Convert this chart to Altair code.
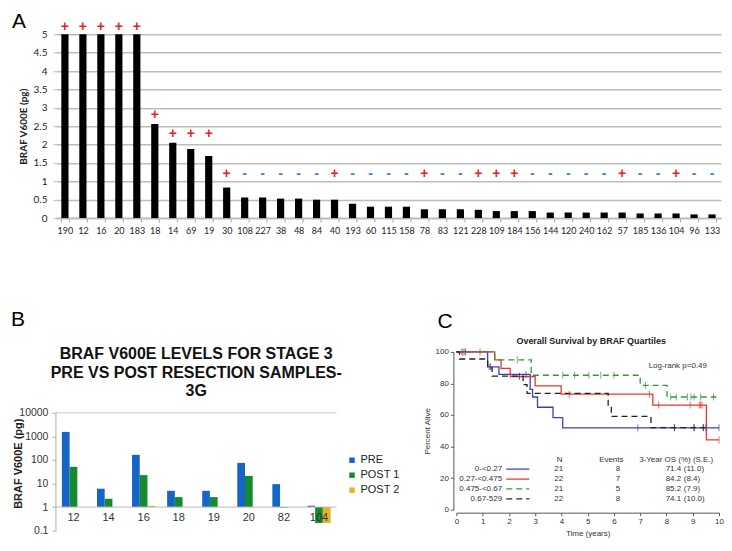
import altair as alt
import pandas as pd

# ---------------- Panel A data ----------------
a_samples = ['190', '12', '16', '20', '183', '18', '14', '69', '19', '30', '108', '227', '38', '48', '84', '40', '193',
             '60', '115', '158', '78', '83', '121', '228', '109', '184', '156', '144', '120', '240', '162', '57',
             '185', '136', '104', '96', '133']
a_values = [5, 5, 5, 5, 5, 2.56, 2.05, 1.88, 1.69, 0.83, 0.56, 0.56, 0.53, 0.53, 0.50, 0.50, 0.39,
            0.31, 0.31, 0.31, 0.24, 0.24, 0.24, 0.225, 0.19, 0.19, 0.19, 0.15, 0.15, 0.15, 0.15, 0.15,
            0.125, 0.125, 0.125, 0.10, 0.10]
a_signs = ['+', '+', '+', '+', '+', '+', '+', '+', '+', '+', '-', '-', '-', '-', '-', '+', '-',
           '-', '-', '-', '+', '-', '-', '+', '+', '+', '-', '-', '-', '-', '-', '+',
           '-', '-', '+', '-', '-']
a_sign_level = [5.21] * 5 + [2.8, 2.28, 2.28, 2.28] + [1.2] * 28
a_ticks = [0, 0.5, 1, 1.5, 2, 2.5, 3, 3.5, 4, 4.5, 5]

# ---------------- Panel B data ----------------
b_samples = ['12', '14', '16', '18', '19', '20', '82', '104']
b_series = ['PRE', 'POST 1', 'POST 2']
b_pre = [1550, 6.0, 165, 4.9, 4.9, 75, 9.4, 1.14]
b_post1 = [51, 2.25, 22.7, 2.65, 2.65, 21, 0.95, 0.21]
b_post2 = [None, None, 1.14, None, None, None, None, 0.21]
b_colors = ['#1565c9', '#178a2f', '#e2b526']
b_ticks = [0.1, 1, 10, 100, 1000, 10000]
b_title = 'BRAF V600E LEVELS FOR STAGE 3\nPRE VS POST RESECTION SAMPLES-\n3G'

# ---------------- Panel C data ----------------
c_groups = ['0-<0.27', '0.27-<0.475', '0.475-<0.67', '0.67-529']
c_colors = ['#3a3fc0', '#e8352e', '#2e9a38', '#222222']
blue_t = [0, 1.19, 1.62, 2.81, 2.9, 3.09, 3.68, 4.05, 10.0]
blue_s = [100, 90.5, 85.7, 76.2, 71.4, 64.9, 58.4, 51.9, 51.9]
red_t = [0, 1.46, 1.70, 2.05, 3.0, 3.99, 7.48, 9.52, 10.0]
red_s = [100, 95.0, 89.5, 84.4, 78.4, 73.2, 66.3, 44.2, 44.2]
green_t = [0, 1.46, 2.85, 7.0, 8.02, 9.9]
green_s = [100, 95.0, 85.2, 78.8, 71.4, 71.4]
black_t = [0, 0.12, 1.19, 1.36, 2.54, 2.69, 5.78, 5.9, 7.41, 9.48]
black_s = [100, 95.5, 89.9, 84.6, 79.3, 73.7, 66.2, 59.1, 52.0, 52.0]

blue_ct = [0.25, 0.35, 1.25, 1.3, 2.65, 6.91, 8.31, 9.05, 9.4, 9.5, 10.0]
blue_cs = [100, 100, 90.5, 90.5, 85.7, 51.9, 51.9, 51.9, 51.9, 51.9, 51.9]
red_ct = [0.2, 0.3, 0.9, 4.3, 7.35, 7.7, 8.9, 9.25, 9.3, 9.35, 10.0]
red_cs = [100, 100, 100, 73.2, 73.2, 66.3, 66.3, 66.3, 66.3, 66.3, 44.2]
green_ct = [2.32, 4.05, 4.5, 5.05, 5.5, 6.0, 7.2, 8.16, 8.37, 8.8, 8.93, 9.05, 9.3, 9.79]
green_cs = [95, 85.2, 85.2, 85.2, 85.2, 85.2, 78.8, 71.4, 71.4, 71.4, 71.4, 71.4, 71.4, 71.4]
black_ct = [2.4, 8.3, 9.05, 9.4]
black_cs = [84.6, 52.0, 52.0, 52.0]

c_n = ['21', '22', '21', '22']
c_events = ['8', '7', '5', '8']
c_os = ['71.4', '84.2', '85.2', '74.1']
c_se = ['(11.0)', '(8.4)', '(7.9)', '(10.0)']
c_headers = ['N', 'Events', '3-Year OS (%) (S.E.)']

PANEL_FONT = dict(font='Liberation Sans', fontSize=21, align='left', baseline='top', color='black')

# =============== Panel A ===============
dfA = pd.DataFrame({'sample': a_samples, 'value': a_values, 'sign': a_signs, 'level': a_sign_level})
ytitleA = 'BRAF V600E (pg)'
xscaleA = alt.Scale(paddingInner=0.6, paddingOuter=0.3)
xaxisA = alt.Axis(labelAngle=0, labelFont='Lato', labelFontSize=9, labelColor='#222',
                  labelPadding=4, tickColor='#aaa', tickSize=4, tickBand='extent',
                  domainColor='#b8b8b8', domainWidth=1.5, labelOverlap=False)
yscaleA = alt.Scale(domain=[0, 5], nice=False, zero=True)
yaxisA = alt.Axis(values=a_ticks, format='~g', grid=True, gridColor='#bdbdbd', gridWidth=1.5,
                  domain=False, tickColor='#bdbdbd', tickSize=3, labelFont='Lato',
                  labelFontSize=10, labelColor='#222', labelPadding=6, labelOverlap=False,
                  titleFont='Lato', titleFontSize=10, titleFontWeight='bold',
                  titlePadding=5, titleColor='#222')
barsA = alt.Chart(dfA).mark_bar(color='black').encode(
    x=alt.X('sample:N', sort=a_samples, title=None, scale=xscaleA, axis=xaxisA),
    y=alt.Y('value:Q', title=ytitleA, scale=yscaleA, axis=yaxisA))
signsA = alt.Chart(dfA).mark_text(fontSize=14, fontWeight='bold', baseline='middle',
                                   font='Liberation Sans').encode(
    x=alt.X('sample:N', sort=a_samples, title=None, scale=xscaleA, axis=xaxisA),
    y=alt.Y('level:Q', title=ytitleA, scale=yscaleA, axis=yaxisA),
    text='sign:N',
    color=alt.Color('sign:N', scale=alt.Scale(domain=['+', '-'], range=['#e8231e', '#2f86d6']),
                    legend=None))
labelA = alt.Chart(pd.DataFrame({'t': ['A']})).mark_text(**PANEL_FONT).encode(
    text='t:N', x=alt.value(-44), y=alt.value(-23))
panelA = alt.layer(barsA, signsA, labelA).properties(width=666, height=184)

# =============== Panel B ===============
rowsB = []
for i, s in enumerate(b_samples):
    for ser, vals in zip(b_series, [b_pre, b_post1, b_post2]):
        if vals[i] is not None:
            rowsB.append({'sample': s, 'series': ser, 'value': vals[i]})
dfB = pd.DataFrame(rowsB)
yscaleB = alt.Scale(type='log', domain=[0.1, 3.85e6], nice=False)
yaxisB = alt.Axis(values=b_ticks, format='~g', grid=False, domain=False,
                  tickColor='#b0b0b0', tickSize=4, labelFont='Liberation Sans',
                  labelFontSize=10.5, labelColor='#333', labelPadding=4, title=None,
                  labelOverlap=False)
xscaleB = alt.Scale(paddingInner=0.34, paddingOuter=0.17)
barsB = alt.Chart(dfB).mark_bar().encode(
    x=alt.X('sample:N', sort=b_samples, title=None, scale=xscaleB, axis=None),
    xOffset=alt.XOffset('series:N', sort=b_series,
                        scale=alt.Scale(domain=b_series, paddingInner=0, paddingOuter=0)),
    y=alt.Y('value:Q', scale=yscaleB, axis=yaxisB),
    y2=alt.datum(1),
    color=alt.Color('series:N', sort=b_series,
                    scale=alt.Scale(domain=b_series, range=b_colors),
                    legend=alt.Legend(title=None, orient='none', legendX=291, legendY=103,
                                      symbolType='square', symbolSize=30, symbolStrokeWidth=0,
                                      labelFont='Liberation Sans', labelFontSize=11,
                                      labelColor='#222', rowPadding=3, labelOffset=3)))
one = pd.DataFrame({'k': [0]})
ruleB1 = alt.Chart(one).mark_rule(color='#b8b8b8', strokeWidth=1).encode(y=alt.datum(1))
ruleB2 = alt.Chart(one).mark_rule(color='#c8c8c8', strokeWidth=1).encode(y=alt.datum(10000))
axisLineB = alt.Chart(one).mark_rule(color='#b0b0b0', strokeWidth=1).encode(
    x=alt.value(0), y=alt.datum(0.1), y2=alt.datum(10000))
textB = alt.Chart(pd.DataFrame({'sample': b_samples})).mark_text(
    font='Liberation Sans', fontSize=11, color='#333', baseline='middle'
).encode(x=alt.X('sample:N', sort=b_samples, title=None, scale=xscaleB, axis=None),
         y=alt.datum(0.33), text='sample:N')
titleB = alt.Chart(pd.DataFrame({'t': [b_title]})).mark_text(
    font='Liberation Sans', fontSize=16, fontWeight='bold', align='center', baseline='top',
    lineBreak='\n', lineHeight=18.7, color='#111'
).encode(text='t:N', x=alt.value(140.5), y=alt.value(-6))
ytitleB = alt.Chart(pd.DataFrame({'t': ['BRAF V600E (pg)']})).mark_text(
    font='Liberation Sans', fontSize=11, fontWeight='bold', angle=270, align='center',
    baseline='middle', color='#222'
).encode(text='t:N', x=alt.value(-37), y=alt.value(112))
labelB = alt.Chart(pd.DataFrame({'t': ['B']})).mark_text(**PANEL_FONT).encode(
    text='t:N', x=alt.value(-45), y=alt.value(-42.5))
panelB = alt.layer(ruleB2, axisLineB, barsB, ruleB1, textB, titleB, ytitleB, labelB).properties(
    width=281, height=179)

# =============== Panel C ===============
rowsC = []
for g, ts, ss in zip(c_groups, [blue_t, red_t, green_t, black_t], [blue_s, red_s, green_s, black_s]):
    for t, s in zip(ts, ss):
        rowsC.append({'group': g, 't': t, 's': s})
dfC = pd.DataFrame(rowsC)
censC = []
for g, ts, ss in zip(c_groups, [blue_ct, red_ct, green_ct, black_ct], [blue_cs, red_cs, green_cs, black_cs]):
    for t, s in zip(ts, ss):
        censC.append({'group': g, 't': t, 's': s})
dfCc = pd.DataFrame(censC)

colorC = alt.Color('group:N', scale=alt.Scale(domain=c_groups, range=c_colors), legend=None)
dashC = alt.StrokeDash('group:N', scale=alt.Scale(domain=c_groups, range=[[1, 0], [1, 0], [6, 4], [6, 4]]),
                       legend=None)
widthC = alt.StrokeWidth('group:N', scale=alt.Scale(domain=c_groups, range=[1.3, 1.3, 2, 2]), legend=None)
xscaleC = alt.Scale(domain=[0, 10], nice=False)
xaxisC = alt.Axis(values=list(range(11)), offset=3, grid=False, domainColor='#555', tickColor='#555',
                  tickSize=3, labelFont='Liberation Sans', labelFontSize=8, labelColor='#333',
                  labelPadding=2, labelOverlap=False, labelFlush=False,
                  titleFont='Liberation Sans', titleFontSize=8, titleFontWeight='normal',
                  titleColor='#333', titlePadding=4)
yscaleC = alt.Scale(domain=[0, 100], nice=False)
yaxisC = alt.Axis(values=[0, 20, 40, 60, 80, 100], offset=3, grid=False, domainColor='#555',
                  tickColor='#555', tickSize=3, labelFont='Liberation Sans', labelFontSize=8,
                  labelColor='#333', labelPadding=2, labelOverlap=False, labelFlush=False,
                  titleFont='Liberation Sans', titleFontSize=8,
                  titleFontWeight='normal', titleColor='#333', titlePadding=4)
XC = lambda f: alt.X(f, title='Time (years)', scale=xscaleC, axis=xaxisC)
YC = lambda f: alt.Y(f, title='Percent Alive', scale=yscaleC, axis=yaxisC)

linesC = alt.Chart(dfC).mark_line(interpolate='step-after').encode(
    x=XC('t:Q'), y=YC('s:Q'), color=colorC, strokeDash=dashC, strokeWidth=widthC, detail='group:N')
ticksC = alt.Chart(dfCc).mark_tick(orient='vertical', size=7, thickness=1).encode(
    x=XC('t:Q'), y=YC('s:Q'), color=colorC)

# legend table: position columns (layout, in data units) kept separate from the values
legend_rows = [25.7, 19.4, 13.2, 6.9]
dfLeg = pd.DataFrame({'group': c_groups, 'n': c_n, 'ev': c_events, 'os': c_os, 'se': c_se, 's': legend_rows})
dfLeg['x_lab'] = 1.74
dfLeg['x_l1'] = 1.9
dfLeg['x_l2'] = 2.78
dfLeg['x_n'] = 3.9
dfLeg['x_ev'] = 6.15
dfLeg['x_os'] = 8.56
dfLeg['x_se'] = 8.66
legBase = alt.Chart(dfLeg)
txt = dict(font='Liberation Sans', fontSize=8, color='#333', baseline='middle')
legLab = legBase.mark_text(align='right', **txt).encode(x=XC('x_lab:Q'), y=YC('s:Q'), text='group:N')
legLine = legBase.mark_rule().encode(
    x=XC('x_l1:Q'), x2='x_l2:Q', y=YC('s:Q'), color=colorC, strokeDash=dashC, strokeWidth=widthC)
legN = legBase.mark_text(align='center', **txt).encode(x=XC('x_n:Q'), y=YC('s:Q'), text='n:N')
legEv = legBase.mark_text(align='center', **txt).encode(x=XC('x_ev:Q'), y=YC('s:Q'), text='ev:N')
legOs = legBase.mark_text(align='right', **txt).encode(x=XC('x_os:Q'), y=YC('s:Q'), text='os:N')
legSe = legBase.mark_text(align='left', **txt).encode(x=XC('x_se:Q'), y=YC('s:Q'), text='se:N')
hdr = pd.DataFrame({'h': c_headers + ['Log-rank p=0.49'], 'hx': [3.93, 5.9, 8.37, 8.43], 'hy': [31.3, 31.3, 31.3, 91]})
legHdr = alt.Chart(hdr).mark_text(align='center', **txt).encode(
    x=XC('hx:Q'), y=YC('hy:Q'), text='h:N')
titleC = alt.Chart(pd.DataFrame({'t': ['Overall Survival by BRAF Quartiles']})).mark_text(
    font='Liberation Sans', fontSize=9, fontWeight='bold', align='center', baseline='middle', color='#222'
).encode(text='t:N', x=alt.value(135), y=alt.value(-11))
labelC = alt.Chart(pd.DataFrame({'t': ['C']})).mark_text(**PANEL_FONT).encode(
    text='t:N', x=alt.value(-19), y=alt.value(-40.5))
panelC = alt.layer(linesC, ticksC, legLine, legLab, legN, legEv, legOs, legSe, legHdr,
                   titleC, labelC).properties(width=263, height=158)

bottom = alt.hconcat(panelB, panelC, spacing=22).resolve_scale(
    color='independent', strokeDash='independent')
chart = alt.vconcat(panelA, bottom, spacing=74).resolve_scale(
    color='independent', strokeDash='independent'
).properties(padding={'left': 3, 'top': 3, 'right': 0, 'bottom': 0}).configure_view(
    stroke=None).configure_axis(labelOverlap=False)

chart.save("out.html", embed_options={"renderer": "svg", "actions": False})
